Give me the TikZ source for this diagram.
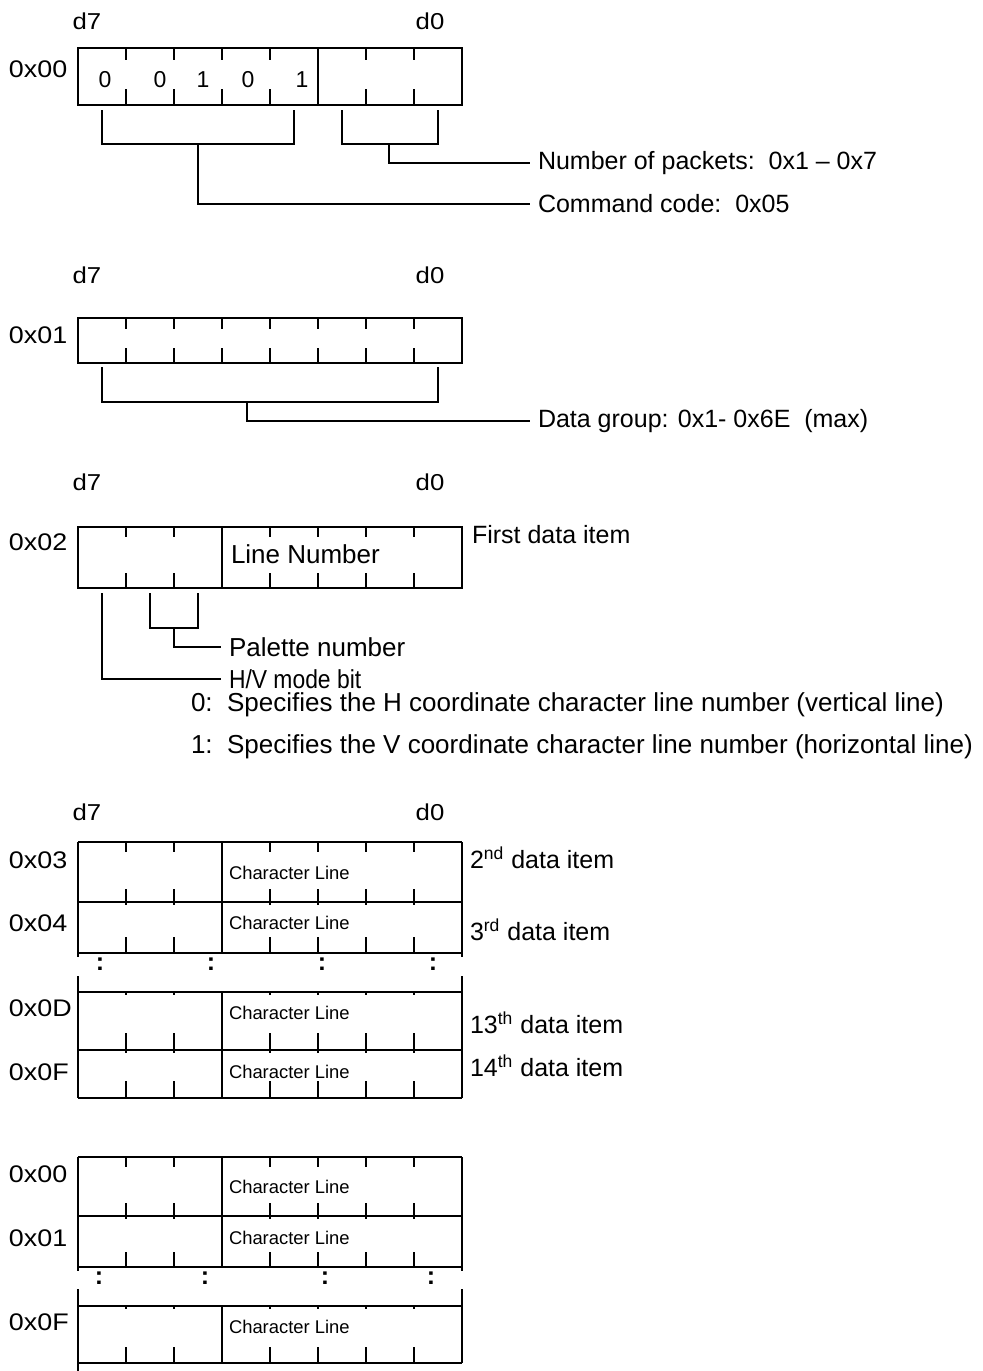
\documentclass[tikz,border=0pt]{standalone}
\usepackage{fontspec}
\setmainfont{Liberation Sans}
\newfontfamily\widefont[FakeStretch=1.12]{Liberation Sans}
\newfontfamily\slimfont[FakeStretch=0.88]{Liberation Sans}
\usetikzlibrary{positioning}

\begin{document}
\begin{tikzpicture}[x=0.5pt, y=-0.5pt, line width=1pt,
  txt/.style={anchor=west, inner sep=0pt, font=\fontsize{12.5}{15}\selectfont},
  lead/.style={txt, inner sep=3.5pt},
  addr/.style={anchor=west, inner sep=0pt, font=\widefont\fontsize{12}{14}\selectfont},
  bitno/.style={inner sep=0pt, font=\widefont\fontsize{11.5}{13}\selectfont},
  bitval/.style={inner sep=0pt, font=\fontsize{11.5}{13}\selectfont},
  chline/.style={anchor=west, inner sep=0pt, font=\fontsize{9.2}{11}\selectfont},
  dots/.style={inner sep=0pt, font=\bfseries\fontsize{12.5}{15}\selectfont}]
  \useasboundingbox (0,0) rectangle (982,1371);

  % byte 0x00: command
  \node[bitno] (d7a) at (87,21) {d7};
  \node[bitno] (d0a) at (430,21) {d0};
  \node[addr] (r00) at (8,69) {0x00};
  \draw (78,48) rectangle (462,105);
  \draw (318,48) -- (318,105);
  \foreach \x in {126,174,222,270,366,414} {
    \draw (\x,48) -- (\x,60);
    \draw (\x,89) -- (\x,105);
  }
  \foreach \v/\x [count=\i] in {0/105,0/160,1/203,0/248,1/302}
    \node[bitval] (bit\i) at (\x,80) {\v};
  \node[lead] (npk) at (530,163) {Number of packets:~~0x1 – 0x7};
  \node[lead] (cmd) at (530,204) {Command code:~~0x05};
  \coordinate (cmdstem) at (198,144);
  \coordinate (npkstem) at (389,144);
  \draw (102,110) |- (294,144) -- (294,110);
  \draw (342,110) |- (438,144) -- (438,110);
  \draw (cmdstem) |- (cmd.west);
  \draw (npkstem) |- (npk.west);

  % byte 0x01: data group
  \node[bitno] (d7b) at (87,275) {d7};
  \node[bitno] (d0b) at (430,275) {d0};
  \node[addr] (r01) at (8,335) {0x01};
  \draw (78,318) rectangle (462,363);
  \foreach \x in {126,174,222,270,318,366,414} {
    \draw (\x,318) -- (\x,329);
    \draw (\x,348) -- (\x,363);
  }
  \node[lead] (dgrp) at (530,421) {Data group: 0x1- 0x6E~~(max)};
  \coordinate (dgrpstem) at (247,402);
  \draw (102,367) |- (438,402) -- (438,367);
  \draw (dgrpstem) |- (dgrp.west);

  % byte 0x02: first data item
  \node[bitno] (d7c) at (87,482) {d7};
  \node[bitno] (d0c) at (430,482) {d0};
  \node[addr] (r02) at (8,542) {0x02};
  \draw (78,527) rectangle (462,588);
  \draw (222,527) -- (222,588);
  \foreach \x in {126,174,270,318,366,414} {
    \draw (\x,527) -- (\x,537);
    \draw (\x,573) -- (\x,588);
  }
  \node[txt, font=\fontsize{13}{15}\selectfont] (lnum) at (230,554) {Line Number};
  \node[txt] (first) at (471,535) {First data item};
  \node[lead, font=\fontsize{13}{15}\selectfont] (pal) at (221,647) {Palette number};
  \node[lead, font=\slimfont\fontsize{13}{15}\selectfont] (hv) at (221,679) {H/V mode bit};
  \coordinate (hvstem) at (102,593);
  \coordinate (palstem) at (174,628);
  \draw (150,593) |- (198,628) -- (198,593);
  \draw (palstem) |- (pal.west);
  \draw (hvstem) |- (hv.west);
  \node[txt, font=\fontsize{13}{15}\selectfont] (mode0) at (190,705) {0:~~Specifies the H coordinate character line number (vertical line)};
  \node[txt, font=\fontsize{13}{15}\selectfont] (mode1) at (190,747) {1:~~Specifies the V coordinate character line number (horizontal line)};

  % bytes 0x03 .. 0x0F
  \node[bitno] (d7d) at (87,812) {d7};
  \node[bitno] (d0d) at (430,812) {d0};
  \draw (78,842) -- (78,957) (462,842) -- (462,957);
  \draw (78,976) -- (78,1098) (462,976) -- (462,1098);
  \foreach \y in {842,902,953,992,1050,1098}
    \draw (78,\y) -- (462,\y);
  \draw (222,842) -- (222,953) (222,992) -- (222,1098);
  \foreach \top/\tk/\bk/\bot in {842/852/889/902, 902/905/937/953, 992/995/1033/1050, 1050/1053/1081/1098}
    \foreach \x in {126,174,270,318,366,414} {
      \draw (\x,\top) -- (\x,\tk);
      \draw (\x,\bk) -- (\x,\bot);
    }
  \foreach \x [count=\i] in {100,211,322,433}
    \node[dots] (gapa\i) at (\x,964) {:};
  \node[addr] (r03) at (8,860) {0x03};
  \node[addr] (r04) at (8,923) {0x04};
  \node[addr] (r0d) at (8,1008) {0x0D};
  \node[addr] (r0f) at (8,1072) {0x0F};
  \node[chline] (cla) at (228,873) {Character Line};
  \node[chline] (clb) at (228,923) {Character Line};
  \node[chline] (clc) at (228,1013) {Character Line};
  \node[chline] (cld) at (228,1072) {Character Line};
  \node[txt] (item2) at (469,858) {2\textsuperscript{nd} data item};
  \node[txt] (item3) at (469,930) {3\textsuperscript{rd} data item};
  \node[txt] (item13) at (469,1023) {13\textsuperscript{th} data item};
  \node[txt] (item14) at (469,1066) {14\textsuperscript{th} data item};

  % second packet
  \draw (78,1157) -- (78,1271) (462,1157) -- (462,1271);
  \draw (78,1289) -- (78,1371) (462,1289) -- (462,1363);
  \foreach \y in {1157,1216,1267,1306,1363}
    \draw (78,\y) -- (462,\y);
  \draw (222,1157) -- (222,1267) (222,1306) -- (222,1363);
  \foreach \top/\tk/\bk/\bot in {1157/1167/1203/1216, 1216/1219/1252/1267, 1306/1309/1347/1363}
    \foreach \x in {126,174,270,318,366,414} {
      \draw (\x,\top) -- (\x,\tk);
      \draw (\x,\bk) -- (\x,\bot);
    }
  \foreach \x [count=\i] in {99,205,325,431}
    \node[dots] (gapb\i) at (\x,1278) {:};
  \node[addr] (s00) at (8,1174) {0x00};
  \node[addr] (s01) at (8,1238) {0x01};
  \node[addr] (s0f) at (8,1322) {0x0F};
  \node[chline] (cle) at (228,1187) {Character Line};
  \node[chline] (clf) at (228,1238) {Character Line};
  \node[chline] (clg) at (228,1327) {Character Line};
\end{tikzpicture}
\end{document}
